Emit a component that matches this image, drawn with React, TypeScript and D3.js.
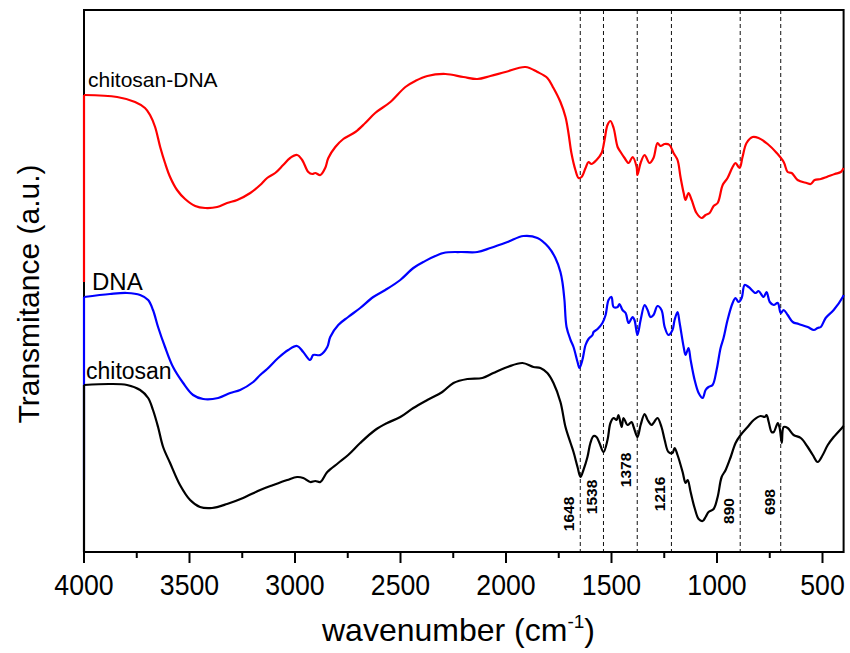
import React from "react";
import * as d3 from "d3";

// FTIR spectra: [wavenumber (cm-1), transmittance (a.u.)]
const chitosanDna: [number, number][] = [
  [4000, 270], [4000, 457], [3843, 455], [3758, 450], [3711, 444], [3687, 437], [3663, 425],
  [3639, 405], [3616, 389], [3592, 375], [3559, 362], [3521, 353], [3473, 346], [3426, 344],
  [3369, 345], [3322, 349], [3274, 352], [3212, 359], [3165, 367], [3132, 374], [3094, 379],
  [3056, 387], [3023, 394], [2990, 397], [2966, 392], [2937, 380], [2918, 378], [2904, 379],
  [2880, 377], [2857, 384], [2842, 394], [2809, 405], [2771, 413], [2714, 420], [2667, 429],
  [2620, 439], [2548, 450], [2477, 465], [2430, 471], [2373, 476], [2287, 478], [2202, 475],
  [2136, 473], [2074, 476], [2003, 480], [1908, 485], [1851, 480], [1804, 474], [1775, 464],
  [1742, 450], [1718, 435], [1704, 419], [1690, 399], [1671, 382], [1656, 374], [1642, 375],
  [1623, 384], [1609, 390], [1595, 388], [1571, 392], [1547, 399], [1533, 412], [1519, 427],
  [1505, 431], [1490, 424], [1471, 405], [1457, 400], [1438, 394], [1419, 389], [1400, 395],
  [1381, 385], [1377, 377], [1362, 389], [1343, 397], [1320, 389], [1301, 394], [1282, 409],
  [1268, 406], [1248, 408], [1225, 407], [1206, 399], [1187, 392], [1173, 375], [1158, 359],
  [1149, 352], [1135, 359], [1120, 352], [1097, 339], [1073, 334], [1054, 337], [1035, 339],
  [1016, 346], [997, 349], [973, 367], [950, 374], [926, 385], [912, 389], [893, 384],
  [879, 395], [860, 409], [831, 415], [803, 414], [760, 408], [717, 399], [684, 390],
  [665, 380], [646, 379], [618, 372], [575, 369], [556, 368], [537, 372], [508, 373],
  [480, 375], [442, 378], [413, 380], [400, 384],
];

const dna: [number, number][] = [
  [4000, 72], [4000, 255], [3877, 258], [3796, 259], [3734, 257], [3696, 252], [3673, 242],
  [3649, 225], [3616, 205], [3578, 185], [3530, 169], [3483, 157], [3435, 153], [3364, 154],
  [3307, 159], [3260, 162], [3198, 170], [3165, 177], [3132, 183], [3080, 194], [3032, 202],
  [2990, 206], [2961, 200], [2928, 192], [2914, 197], [2880, 197], [2847, 205], [2833, 215],
  [2795, 227], [2748, 235], [2691, 244], [2629, 255], [2572, 262], [2501, 272], [2439, 284],
  [2392, 290], [2297, 299], [2216, 300], [2136, 300], [2074, 304], [1993, 310], [1917, 316],
  [1851, 314], [1799, 305], [1766, 294], [1742, 280], [1732, 269], [1723, 252], [1713, 225],
  [1694, 212], [1680, 205], [1661, 190], [1652, 184], [1638, 192], [1623, 207], [1609, 213],
  [1590, 217], [1585, 220], [1566, 223], [1543, 229], [1528, 237], [1514, 252], [1500, 255],
  [1490, 245], [1471, 245], [1462, 248], [1448, 242], [1433, 239], [1419, 229], [1400, 235],
  [1391, 232], [1377, 217], [1362, 232], [1343, 247], [1329, 242], [1315, 235], [1301, 237],
  [1282, 246], [1263, 242], [1248, 225], [1230, 217], [1211, 222], [1201, 232], [1187, 240],
  [1177, 229], [1158, 205], [1149, 197], [1135, 204], [1125, 192], [1106, 172], [1087, 159],
  [1068, 154], [1054, 162], [1040, 165], [1021, 167], [1002, 182], [983, 204], [969, 214],
  [950, 232], [926, 249], [912, 254], [898, 250], [883, 254], [869, 267], [850, 265],
  [817, 259], [803, 261], [779, 255], [765, 260], [750, 250], [731, 247], [712, 249],
  [698, 239], [684, 242], [665, 237], [641, 230], [613, 228], [570, 225], [541, 222],
  [523, 224], [508, 225], [485, 234], [447, 242], [404, 255], [400, 257],
];

const chitosan: [number, number][] = [
  [4000, 0], [4000, 167], [3877, 168], [3796, 167], [3734, 162], [3696, 154], [3673, 142],
  [3649, 125], [3625, 105], [3592, 89], [3545, 67], [3497, 52], [3450, 45], [3393, 44],
  [3322, 48], [3246, 54], [3165, 62], [3103, 67], [3037, 72], [2990, 75], [2961, 74],
  [2928, 70], [2904, 71], [2880, 70], [2847, 80], [2795, 89], [2748, 97], [2691, 109],
  [2620, 122], [2563, 129], [2501, 135], [2439, 144], [2373, 152], [2302, 160], [2249, 169],
  [2183, 173], [2112, 174], [2060, 179], [1993, 185], [1922, 189], [1870, 185], [1837, 184],
  [1804, 179], [1775, 169], [1742, 150], [1718, 125], [1694, 109], [1680, 100], [1661, 85],
  [1647, 75], [1633, 82], [1614, 95], [1600, 109], [1585, 116], [1571, 115], [1557, 109],
  [1538, 100], [1519, 112], [1505, 129], [1490, 134], [1476, 132], [1467, 137], [1452, 125],
  [1443, 134], [1424, 127], [1405, 130], [1395, 125], [1377, 115], [1362, 127], [1343, 138],
  [1329, 132], [1310, 127], [1301, 129], [1282, 134], [1263, 125], [1248, 112], [1230, 100],
  [1211, 99], [1201, 104], [1187, 97], [1163, 80], [1149, 69], [1139, 72], [1125, 60],
  [1106, 44], [1087, 33], [1068, 31], [1054, 35], [1040, 40], [1016, 43], [997, 55],
  [978, 75], [959, 82], [935, 95], [912, 109], [888, 117], [855, 125], [826, 132],
  [793, 136], [774, 135], [765, 137], [755, 130], [741, 120], [731, 120], [712, 129],
  [703, 124], [693, 109], [684, 125], [665, 124], [637, 117], [603, 114], [570, 105],
  [546, 97], [523, 90], [499, 97], [475, 107], [447, 115], [404, 125], [400, 126],
];

const seriesNames = ["chitosan-DNA", "DNA", "chitosan"];
const seriesColors = ["#ff0000", "#0000ff", "#000000"];
const majorTicks = [4000, 3500, 3000, 2500, 2000, 1500, 1000, 500];
const minorTicks = [3750, 3250, 2750, 2250, 1750, 1250, 750];
const bandPositions = [1648, 1538, 1378, 1216, 890, 698];

const W = 850;
const H = 653;
const left = 84;
const right = 843.6;
const top = 10;
const bottom = 552;

const FONT = "'Liberation Sans', Arial, Helvetica, sans-serif";

export default function App() {
  const x = d3.scaleLinear().domain([4000, 400]).range([left, right]);
  const y = d3.scaleLinear().domain([0, 542]).range([bottom, top]);

  // smooth spectrum body
  const smooth = d3
    .line<[number, number]>()
    .x((d) => x(d[0]))
    .y((d) => y(d[1]))
    .curve(d3.curveCatmullRom.alpha(0.5));

  // straight baseline drop at the start of each scan
  const straight = d3
    .line<[number, number]>()
    .x((d) => x(d[0]))
    .y((d) => y(d[1]));

  const allSeries = [chitosanDna, dna, chitosan];

  // curve label placement (start x, baseline y, font size)
  const labelLayout = [
    { x: 88, y: 87, size: 21 },
    { x: 92, y: 290, size: 24 },
    { x: 86, y: 379, size: 23 },
  ];

  // vertical centre of each band annotation
  const bandLabelY = [514, 497, 470, 494, 511, 502];

  return (
    <svg
      width={W}
      height={H}
      viewBox={`0 0 ${W} ${H}`}
      style={{ position: "absolute", left: 0, top: 0, background: "#fff" }}
      fontFamily={FONT}
    >
      <rect x={0} y={0} width={W} height={H} fill="#fff" />

      {/* band markers */}
      {bandPositions.map((b) => (
        <line
          key={`band-${b}`}
          x1={x(b)}
          x2={x(b)}
          y1={top}
          y2={bottom}
          stroke="#111"
          strokeWidth={1}
          strokeDasharray="4,3"
        />
      ))}

      {/* frame */}
      <rect
        x={left}
        y={top}
        width={right - left}
        height={bottom - top}
        fill="none"
        stroke="#000"
        strokeWidth={2}
      />

      {/* bottom axis ticks */}
      {majorTicks.map((t) => (
        <line key={`mj-${t}`} x1={x(t)} x2={x(t)} y1={bottom} y2={bottom + 11} stroke="#000" strokeWidth={2} />
      ))}
      {minorTicks.map((t) => (
        <line key={`mn-${t}`} x1={x(t)} x2={x(t)} y1={bottom} y2={bottom + 6} stroke="#000" strokeWidth={2} />
      ))}
      {majorTicks.map((t) => (
        <text
          key={`tl-${t}`}
          transform={`translate(${x(t)},${595}) scale(0.92,1)`}
          textAnchor="middle"
          fontSize={29}
          fill="#000"
        >
          {t}
        </text>
      ))}

      {/* spectra */}
      {allSeries.map((s, i) => (
        <g key={seriesNames[i]} fill="none" stroke={seriesColors[i]} strokeWidth={2.2} strokeLinejoin="round">
          <path d={straight(s.slice(0, 2)) ?? ""} />
          <path d={smooth(s.slice(1)) ?? ""} />
        </g>
      ))}

      {/* curve labels */}
      {seriesNames.map((n, i) => (
        <text
          key={`lab-${n}`}
          x={labelLayout[i].x}
          y={labelLayout[i].y}
          fontSize={labelLayout[i].size}
          fill="#000"
        >
          {n}
        </text>
      ))}

      {/* band annotations */}
      {bandPositions.map((b, i) => (
        <text
          key={`bl-${b}`}
          transform={`translate(${x(b) - 6},${bandLabelY[i]}) rotate(-90)`}
          textAnchor="middle"
          fontSize={15.5}
          fontWeight="bold"
          fill="#000"
        >
          {b}
        </text>
      ))}

      {/* axis titles */}
      <text x={322} y={641} fontSize={32} fill="#000">
        wavenumber (cm
        <tspan dy={-13} fontSize={19}>-1</tspan>
        <tspan dy={13}>)</tspan>
      </text>
      <text
        transform={`translate(39,294) rotate(-90)`}
        textAnchor="middle"
        fontSize={30}
        fill="#000"
      >
        Transmitance (a.u.)
      </text>
    </svg>
  );
}
